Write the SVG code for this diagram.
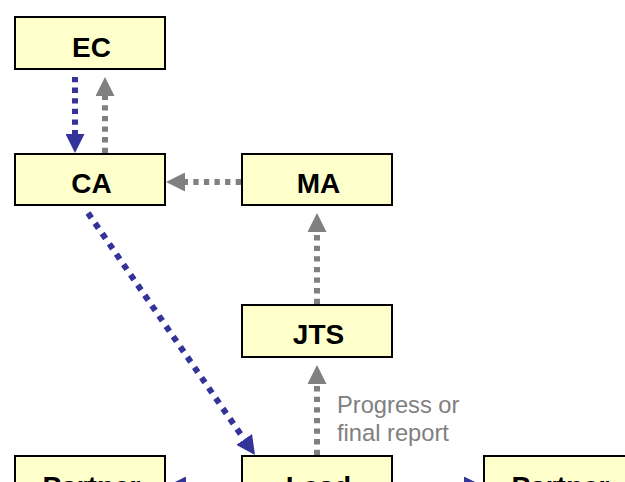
<svg xmlns="http://www.w3.org/2000/svg" width="625" height="482" viewBox="0 0 625 482">
<style>
.box{fill:#FFFFCC;stroke:#000;stroke-width:2}
.lbl{font-family:"Liberation Sans",Arial,sans-serif;font-weight:bold;font-size:28px;fill:#000;text-anchor:middle}
.note{font-family:"Liberation Sans",Arial,sans-serif;font-size:23.7px;fill:#808080}
.blue{stroke:#333399;stroke-width:6;fill:none;stroke-dasharray:5.3 5.3}
.gray{stroke:#808080;stroke-width:6;fill:none;stroke-dasharray:5.3 5.3}
</style>
<defs>
<marker id="ab" markerUnits="userSpaceOnUse" markerWidth="19" markerHeight="19" refX="0" refY="9.5" orient="auto" viewBox="0 0 19 19"><path d="M0,0 L19,9.5 L0,19 z" fill="#333399"/></marker>
<marker id="ag" markerUnits="userSpaceOnUse" markerWidth="19" markerHeight="19" refX="0" refY="9.5" orient="auto" viewBox="0 0 19 19"><path d="M0,0 L19,9.5 L0,19 z" fill="#808080"/></marker>
</defs>
<g id="connectors">
<line class="blue" x1="75" y1="77" x2="75" y2="134" marker-end="url(#ab)"/>
<line class="gray" x1="105" y1="153" x2="105" y2="96" marker-end="url(#ag)"/>
<line class="gray" x1="241" y1="182" x2="185" y2="182" marker-end="url(#ag)"/>
<line class="gray" x1="317" y1="304" x2="317" y2="232" marker-end="url(#ag)"/>
<line class="gray" x1="317" y1="455" x2="317" y2="384" marker-end="url(#ag)"/>
<line class="blue" style="stroke-dasharray:6 6.5" x1="88" y1="213" x2="244.2" y2="439.4" marker-end="url(#ab)"/>
<line class="blue" x1="241" y1="486" x2="186" y2="486" marker-end="url(#ab)"/>
<line class="blue" x1="393" y1="486" x2="464" y2="486" marker-end="url(#ab)"/>
<text class="note" x="337" y="413">Progress or</text>
<text class="note" x="337" y="441">final report</text>
</g>
<g id="EC"><rect class="box" x="15" y="17" width="150" height="52"/><text class="lbl" x="91.5" y="57">EC</text></g>
<g id="CA"><rect class="box" x="15" y="154" width="150" height="51"/><text class="lbl" x="91.5" y="193">CA</text></g>
<g id="MA"><rect class="box" x="242" y="154" width="150" height="51"/><text class="lbl" x="318.5" y="193">MA</text></g>
<g id="JTS"><rect class="box" x="242" y="305" width="150" height="52"/><text class="lbl" x="318.5" y="344">JTS</text></g>
<g id="Lead"><rect class="box" x="242" y="456" width="150" height="52"/><text class="lbl" x="318.5" y="496">Lead</text></g>
<g id="PartnerLeft"><rect class="box" x="15" y="456" width="150" height="52"/><text class="lbl" x="91.5" y="496">Partner</text></g>
<g id="PartnerRight"><rect class="box" x="484" y="456" width="150" height="52"/><text class="lbl" x="560.5" y="496">Partner</text></g>
</svg>
